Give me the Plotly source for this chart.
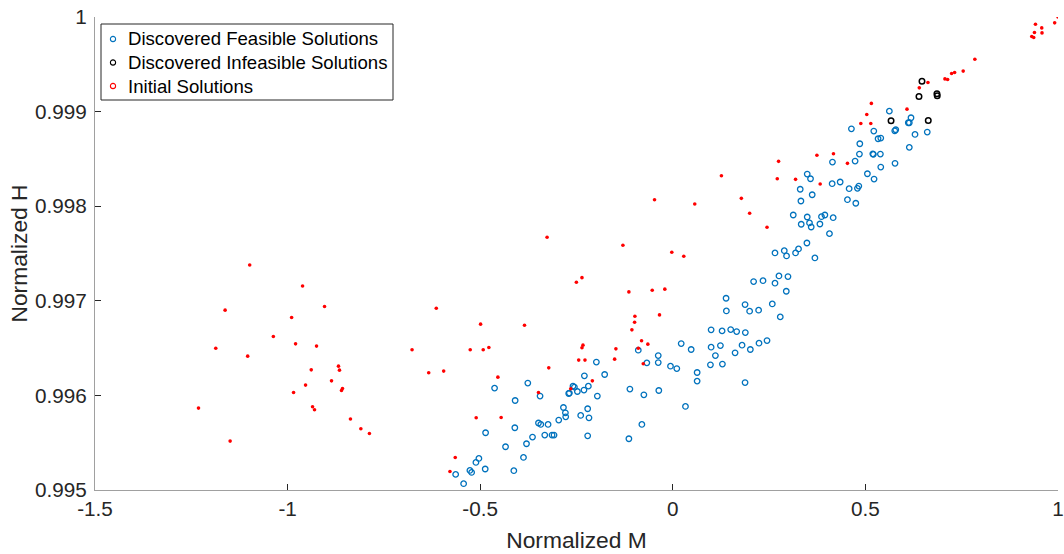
import plotly.graph_objects as go

feasible_M = [-0.4627,-0.3764,-0.4093,-0.3446,-0.4860,-0.4101,-0.4342,-0.3798,-0.3642,-0.3876,
-0.4127,-0.5034,-0.5111,-0.4870,-0.5267,-0.5223,-0.5637,-0.5430,-0.3487,-0.3427,
-0.3238,-0.3324,-0.3135,-0.3083,-0.2961,-0.2839,-0.2788,-0.2780,-0.2391,-0.2210,
-0.2176,-0.2210,-0.2702,-0.2684,-0.2591,-0.2554,-0.2477,-0.2306,-0.2192,-0.1959,
-0.2295,-0.1984,-0.1769,-0.1114,-0.0751,-0.0363,-0.0803,-0.1140,-0.0896,-0.0674,
-0.0378,-0.0378,-0.0060,0.0104,0.4845,0.5192,0.5207,0.5389,0.4145,0.4733,
0.5769,0.5399,0.5052,0.5225,0.3490,0.3575,0.4137,0.4345,0.4578,0.4793,
0.4829,0.3308,0.3619,0.4534,0.4751,0.3326,0.3127,0.3490,0.3860,0.3948,
0.4163,0.3334,0.3549,0.3593,0.3819,0.4067,0.3482,0.2653,0.2894,0.2953,
0.3187,0.3264,0.3689,0.2756,0.2990,0.2653,0.2098,0.2342,0.2946,0.1383,
0.1391,0.1876,0.1995,0.2228,0.2583,0.2790,0.0995,0.1280,0.1503,0.1658,
0.1883,0.0218,0.0477,0.0995,0.1236,0.1106,0.1617,0.1798,0.2013,0.2238,
0.2446,0.0977,0.1288,0.0632,0.0632,0.1876,0.0329,0.5622,0.6184,0.6114,
0.6140,0.5762,0.5788,0.6288,0.6606,0.6140,0.5218,0.4637,0.5329,0.5399,
0.4855]

feasible_H = [0.996077,0.996130,0.995946,0.995993,0.995605,0.995658,0.995457,0.995489,0.995560,0.995344,
0.995204,0.995334,0.995291,0.995222,0.995207,0.995186,0.995165,0.995067,0.995708,0.995693,
0.995693,0.995581,0.995581,0.995581,0.995739,0.995872,0.995816,0.995774,0.995788,0.995859,
0.995763,0.995573,0.996020,0.996025,0.996098,0.996088,0.996041,0.996056,0.996098,0.995993,
0.996207,0.996352,0.996221,0.996067,0.996006,0.996052,0.995693,0.995542,0.996478,0.996344,
0.996421,0.996347,0.996309,0.996284,0.998551,0.998554,0.998548,0.998551,0.998467,0.998477,
0.998453,0.998414,0.998343,0.998287,0.998340,0.998290,0.998238,0.998256,0.998185,0.998189,
0.998213,0.998179,0.998121,0.998069,0.998031,0.998055,0.997907,0.997886,0.997889,0.997907,
0.997879,0.997809,0.997823,0.997780,0.997812,0.997710,0.997611,0.997506,0.997530,0.997474,
0.997506,0.997548,0.997453,0.997263,0.997256,0.997186,0.997203,0.997213,0.997101,0.997027,
0.996893,0.996960,0.996890,0.996901,0.996967,0.996830,0.996693,0.996682,0.996696,0.996675,
0.996664,0.996548,0.996485,0.996510,0.996527,0.996421,0.996450,0.996531,0.996485,0.996552,
0.996580,0.996323,0.996331,0.996242,0.996151,0.996136,0.995883,0.999005,0.998935,0.998882,
0.998882,0.998797,0.998808,0.998759,0.998784,0.998622,0.998794,0.998818,0.998713,0.998720,
0.998660]

infeasible_M = [0.6469, 0.6391, 0.6857, 0.6865, 0.5666, 0.6632]
infeasible_H = [0.999322, 0.999161, 0.999188, 0.999167, 0.998903, 0.998907]

initial_M = [-1.0984,-0.9611,-0.9041,-1.1622,-0.9896,-1.0370,-0.9793,-0.9249,-1.1865,-1.1036,
-0.6769,-0.6140,-0.6337,-0.5948,-0.9386,-0.8679,-0.8653,-0.9534,-0.8860,-0.9845,
-0.8575,-0.8601,-1.2313,-0.9352,-0.9301,-0.8368,-0.8098,-0.7876,-1.1492,-0.4990,
-0.3850,-0.5259,-0.4922,-0.4775,-0.4541,-0.3220,-0.3487,-0.5104,-0.4456,-0.5648,
-0.5785,-0.0984,-0.0992,-0.1062,-0.0345,-0.2332,-0.2358,-0.1477,-0.0811,-0.0648,
-0.0896,-0.2443,-0.2280,-0.1510,-0.0767,-0.2088,-0.2650,-0.0474,0.0570,-0.3264,
-0.1295,-0.0026,0.0285,-0.2358,-0.2503,-0.1140,-0.0534,-0.0207,0.3741,0.4171,
0.2746,0.4534,0.1262,0.2712,0.3187,0.3826,0.1780,0.1995,0.2446,0.6624,
0.6399,0.5155,0.5036,0.4881,0.5140,0.6080,1.0000,0.9415,0.9914,0.9578,
0.9389,0.9585,0.9319,0.9370,0.7842,0.7539,0.7316,0.7238,0.7065,0.7135]

initial_H = [0.997379,0.997157,0.996939,0.996901,0.996823,0.996622,0.996545,0.996521,0.996499,0.996415,
0.996482,0.996922,0.996239,0.996257,0.996270,0.996309,0.996267,0.996109,0.996154,0.996031,
0.996073,0.996052,0.995866,0.995880,0.995848,0.995750,0.995647,0.995598,0.995517,0.996753,
0.996742,0.996482,0.996482,0.996506,0.996193,0.996291,0.996031,0.995763,0.995767,0.995344,
0.995196,0.996837,0.996774,0.996693,0.996851,0.996531,0.996503,0.996492,0.996577,0.996542,
0.996499,0.996373,0.996373,0.996383,0.996334,0.996154,0.996070,0.998069,0.998023,0.997672,
0.997587,0.997513,0.997471,0.997245,0.997196,0.997094,0.997112,0.997123,0.998538,0.998554,
0.998474,0.998453,0.998322,0.998290,0.998284,0.998234,0.998083,0.997925,0.997777,0.999308,
0.999251,0.999087,0.998970,0.998875,0.998875,0.999026,1.000000,0.999924,0.999938,0.999885,
0.999836,0.999832,0.999794,0.999784,0.999554,0.999428,0.999414,0.999403,0.999346,0.999340]

series_names = ["Discovered Feasible Solutions", "Discovered Infeasible Solutions", "Initial Solutions"]
series_colors = ["#0072BD", "#000000", "#FF0000"]

x_ticks = [-1.5, -1, -0.5, 0, 0.5, 1]
x_ticktext = ["-1.5", "-1", "-0.5", "0", "0.5", "1"]
y_ticks = [0.995, 0.996, 0.997, 0.998, 0.999, 1.0]
y_ticktext = ["0.995", "0.996", "0.997", "0.998", "0.999", "1"]

FONT = "Liberation Sans, Arial, sans-serif"
TXT = "#262626"

fig = go.Figure()
fig.add_trace(go.Scatter(
    x=feasible_M, y=feasible_H, mode="markers", name=series_names[0],
    marker=dict(symbol="circle-open", size=5.5, color=series_colors[0],
                line=dict(width=1.3, color=series_colors[0]))))
fig.add_trace(go.Scatter(
    x=infeasible_M, y=infeasible_H, mode="markers", name=series_names[1],
    marker=dict(symbol="circle-open", size=5.5, color=series_colors[1],
                line=dict(width=1.5, color=series_colors[1]))))
fig.add_trace(go.Scatter(
    x=initial_M, y=initial_H, mode="markers", name=series_names[2],
    marker=dict(symbol="circle", size=3.6, color=series_colors[2], line=dict(width=0))))

# Legend box drawn in MATLAB style (compact rows)
W, H = 963.0, 473.0   # plot area in px
def px_x(p):
    return p / W
def px_y(p):
    return p / H

box_l, box_r, box_t, box_b = 6, 298, 7, 83       # px offsets from plot-area left / top
shapes = [dict(type="rect", xref="paper", yref="paper",
               x0=px_x(box_l), x1=px_x(box_r), y0=1 - px_y(box_b), y1=1 - px_y(box_t),
               line=dict(color="#262626", width=1), fillcolor="white", layer="above")]
annotations = []
row_offsets = [22, 45.5, 69]
for name, col, ro in zip(series_names, series_colors, row_offsets):
    yc = 1 - px_y(ro)
    shapes.append(dict(type="circle", xref="paper", yref="paper",
                       xsizemode="pixel", ysizemode="pixel",
                       xanchor=px_x(18), yanchor=yc,
                       x0=-2.6, x1=2.6, y0=-2.6, y1=2.6,
                       line=dict(color=col, width=1.1), layer="above"))
    annotations.append(dict(text=name, xref="paper", yref="paper",
                            x=px_x(31), y=yc, xanchor="left", yanchor="middle",
                            showarrow=False,
                            font=dict(family=FONT, size=18.6, color="#000000")))

fig.update_layout(
    width=1064, height=554,
    margin=dict(l=95, r=6, t=17, b=64, autoexpand=False),
    paper_bgcolor="white", plot_bgcolor="white",
    font=dict(family=FONT, color=TXT, size=20.7),
    showlegend=False,
    shapes=shapes,
    annotations=annotations,
    xaxis=dict(
        range=[-1.5, 1.00001], tickmode="array", tickvals=x_ticks, ticktext=x_ticktext,
        ticks="inside", ticklen=6, tickcolor="#262626", tickwidth=1,
        showline=True, linecolor="#a0a0a0", linewidth=1.3,
        showgrid=False, zeroline=False, mirror=False, automargin=False,
        ticklabeloverflow="allow",
        tickfont=dict(family=FONT, size=20.7, color=TXT),
        title=dict(text="Normalized M", font=dict(family=FONT, size=22.8, color=TXT), standoff=13),
    ),
    yaxis=dict(
        range=[0.995, 1.0000001], tickmode="array", tickvals=y_ticks, ticktext=y_ticktext,
        ticks="inside", ticklen=6, tickcolor="#262626", tickwidth=1,
        showline=True, linecolor="#a0a0a0", linewidth=1.3,
        showgrid=False, zeroline=False, mirror=False, automargin=False,
        ticklabelstandoff=3,
        ticklabeloverflow="allow",
        tickfont=dict(family=FONT, size=20.7, color=TXT),
        title=dict(text="Normalized H", font=dict(family=FONT, size=22.8, color=TXT), standoff=0),
    ),
)

fig.write_html("out.html")
